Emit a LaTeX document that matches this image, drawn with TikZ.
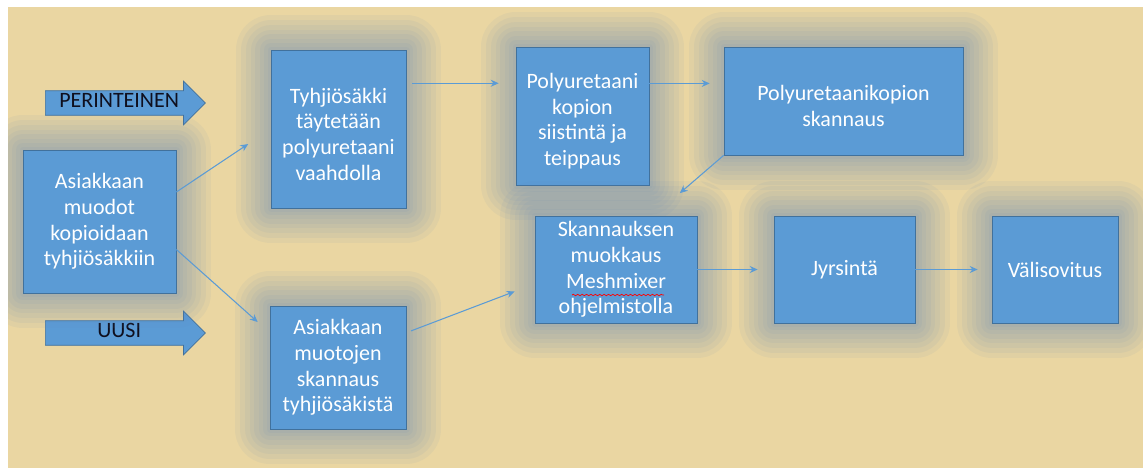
\documentclass[tikz,border=0pt]{standalone}
\usepackage{fontspec}
\setmainfont{Carlito}
\usetikzlibrary{shapes.arrows,arrows.meta,decorations.pathmorphing}
\definecolor{papyrus}{RGB}{234,214,162}
\definecolor{boxblue}{RGB}{91,155,213}
\definecolor{boxline}{RGB}{65,113,156}
\definecolor{glowc}{RGB}{95,135,185}
\definecolor{labeltext}{RGB}{15,15,30}
\tikzset{
  glowline/.style={preaction={draw=glowc, line join=round, line width=#1, opacity=0.07}},
  stepbox/.style={rectangle, fill=boxblue, draw=boxline, line width=0.4pt,
    text=white, align=center, inner sep=0pt,
    font=\fontsize{12.5}{14.6}\selectfont,
    glowline=40pt, glowline=34pt, glowline=28pt, glowline=23pt,
    glowline=18pt, glowline=13pt, glowline=8pt, glowline=4pt},
  flow/.style={draw=boxblue, line width=0.6pt, -{Stealth[length=4.5pt,width=4pt]}},
  bigarrow/.style={single arrow, fill=boxblue, draw=boxline, line width=0.4pt,
    text=labeltext, anchor=west, minimum height=3.2cm,
    single arrow head extend=0.19cm, text height=8pt, text depth=2.5pt,
    inner ysep=1.55pt, inner xsep=0pt, font=\fontsize{12.5}{14.6}\selectfont}
}
\begin{document}
\begin{tikzpicture}[x=0.02cm, y=-0.02cm]
  % paper and papyrus
  \useasboundingbox (0,0) rectangle (1143,468);
  \fill[white] (0,0) rectangle (1143,468);
  \fill[papyrus] (8,7) rectangle (1143,468);
  \begin{scope}
  \clip (8,7) rectangle (1143,468);

  % the two ways
  \node[bigarrow] (perint) at (45,103) {PERINTEINEN};
  \node[bigarrow] (uusi) at (45,333) {UUSI};

  % steps
  \node[stepbox, minimum width=3.06cm, minimum height=2.86cm] (asiak) at (99.5,221.5)
    {Asiakkaan\\muodot\\kopioidaan\\tyhjiösäkkiin};
  \node[stepbox, minimum width=2.7cm, minimum height=3.16cm] (tyhjio) at (338.5,129)
    {~\\Tyhjiösäkki\\täytetään\\polyuretaani\\vaahdolla};
  \node[stepbox, minimum width=2.72cm, minimum height=2.46cm] (skann1) at (338,367.5)
    {Asiakkaan\\muotojen\\skannaus\\tyhjiösäkistä};
  \node[stepbox, minimum width=2.66cm, minimum height=2.76cm] (poly) at (582.5,116)
    {~\\Polyuretaani\\kopion\\siistintä ja\\teippaus};
  \node[stepbox, minimum width=4.78cm, minimum height=2.16cm] (polysk) at (843.5,101)
    {~\\Polyuretaanikopion\\skannaus};
  \node[stepbox, minimum width=3.24cm, minimum height=2.14cm] (muokk) at (616,269.5)
    {Skannauksen\\muokkaus\\Meshmixer\\ohjelmistolla};
  \node[stepbox, minimum width=2.82cm, minimum height=2.14cm] (jyrs) at (844.5,269.5)
    {Jyrsintä};
  \node[stepbox, minimum width=2.52cm, minimum height=2.14cm] (vali) at (1055,269.5)
    {Välisovitus};
  \draw[red, line width=0.4pt, decorate,
    decoration={snake, amplitude=0.4pt, segment length=2.5pt}] (572,295) -- (664,295);

  % connectors
  \draw[flow, shorten >=0.54cm] (asiak.21) -- (tyhjio.west);
  \draw[flow, shorten >=0.32cm] (asiak.-20) -- (skann1.153);
  \draw[flow, shorten <=0.12cm, shorten >=0.34cm] (tyhjio.34) -- (tyhjio.34 -| poly.west);
  \draw[flow, shorten >=0.28cm] (poly.26) -- (poly.26 -| polysk.west);
  \draw[flow, shorten >=0.69cm] (polysk.south west) -- (muokk.55);
  \draw[flow, shorten <=0.1cm, shorten >=0.43cm] (skann1.27) -- (muokk.-170.5);
  \draw[flow, shorten >=0.32cm] (muokk) -- (jyrs);
  \draw[flow, shorten >=0.28cm] (jyrs) -- (vali);
  \end{scope}
\end{tikzpicture}
\end{document}
